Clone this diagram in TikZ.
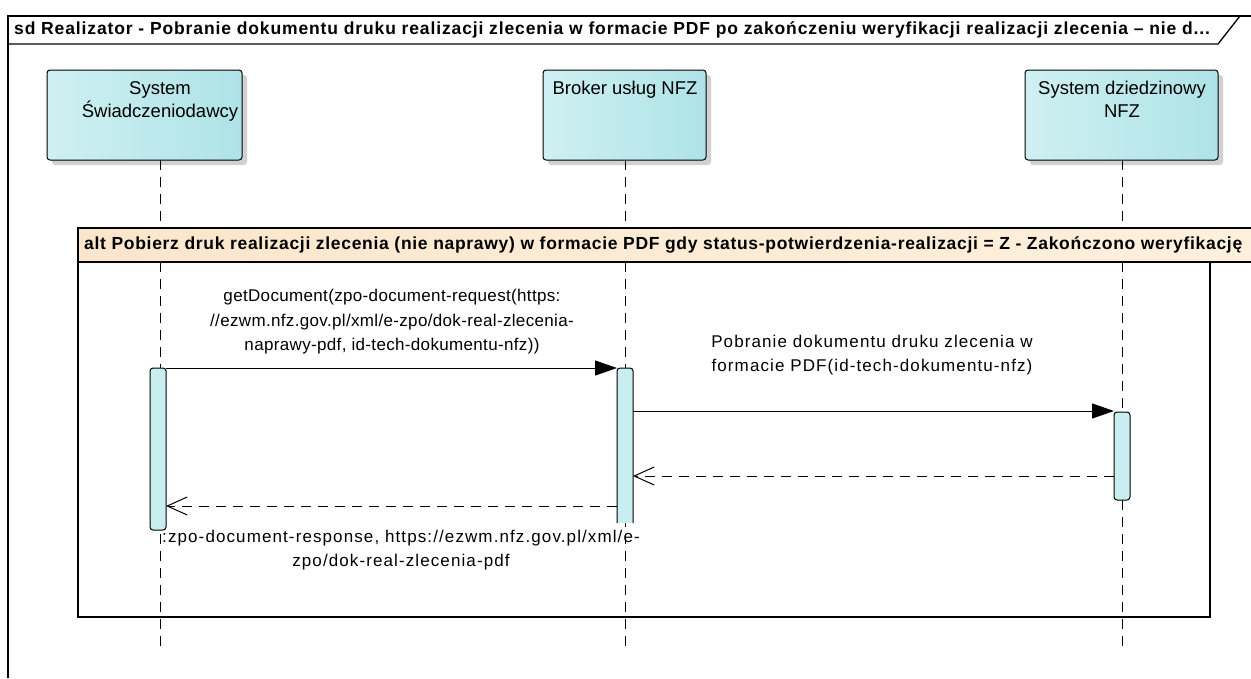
\documentclass[tikz,border=0pt]{standalone}
\usepackage{fontspec}
\setmainfont{Liberation Sans}
\newfontfamily\widebf[LetterSpace=5]{Liberation Sans Bold}
\newfontfamily\altbf[LetterSpace=4]{Liberation Sans Bold}
\newfontfamily\lblfontA[LetterSpace=2]{Liberation Sans}
\newfontfamily\lblfontB[LetterSpace=6.5]{Liberation Sans}
\usetikzlibrary{arrows.meta}
\definecolor{headL}{HTML}{CFF0F2}
\definecolor{headR}{HTML}{AEE3E7}
\definecolor{actfill}{HTML}{C8EEF0}
\definecolor{altL}{HTML}{FBE6CC}
\definecolor{altR}{HTML}{FDF0DD}
\tikzset{
  headbox/.style={draw=black, line width=1pt, rounded corners=3pt, left color=headL, right color=headR},
  headshadow/.style={fill=black!18, draw=none, rounded corners=3pt},
  lifeline/.style={draw=black, line width=1pt, dash pattern=on 10pt off 7pt},
  actbox/.style={draw=black, line width=1pt, fill=actfill, rounded corners=3pt},
  lbl/.style={font=\lblfontA\fontsize{17}{24.5}\selectfont, align=center, inner sep=0pt},
  lblw/.style={font=\lblfontB\fontsize{17}{24.5}\selectfont, align=center, inner sep=0pt},
  hdr/.style={font=\fontsize{18.5}{23}\selectfont, align=center, inner sep=0pt, anchor=north},
  ttl/.style={font=\widebf\fontsize{17.5}{20}\selectfont, anchor=west, inner sep=0pt},
  altttl/.style={font=\altbf\fontsize{17.5}{20}\selectfont, anchor=west, inner sep=0pt},
  msg/.style={draw=black, line width=1pt, -{Triangle[length=22pt,width=15pt]}},
  ret/.style={draw=black, line width=1pt, dash pattern=on 10pt off 7pt, -{Straight Barb[length=20pt,width=18pt]}},
  frm/.style={draw=black, line width=1.3pt},
}
\begin{document}
\begin{tikzpicture}[x=1pt,y=-1pt]
\useasboundingbox (0,0) rectangle (1251,678);
\clip (0,0) rectangle (1251,678);
\fill[white] (0,0) rectangle (1251,678);
% outer frame
\draw[frm] (8,678) -- (8,16) -- (1251,16);
\draw[frm] (8,44) -- (1218,44) -- (1240,16);
\node[ttl] (title) at (14,30) {sd Realizator - Pobranie dokumentu druku realizacji zlecenia w formacie PDF po zakończeniu weryfikacji realizacji zlecenia – nie d...};
% lifeline heads
\fill[headshadow] (52,75) rectangle (247,165);
\fill[headshadow] (548,75) rectangle (711,165);
\fill[headshadow] (1030,75) rectangle (1223,165);
\path[headbox] (47,70) rectangle (242,160);
\path[headbox] (543,70) rectangle (706,160);
\path[headbox] (1025,70) rectangle (1218,160);
\node[hdr] (hA) at (160,81) {System\\Świadczeniodawcy};
\node[hdr] (hB) at (625,81) {Broker usług NFZ};
\node[hdr] (hC) at (1122,81) {System dziedzinowy\\NFZ};
\coordinate (tA) at (160,160);
\coordinate (tB) at (625,160);
\coordinate (tC) at (1122,160);
\coordinate (eA) at (160,650);
\coordinate (eB) at (625,650);
\coordinate (eC) at (1122,650);
\draw[lifeline] (tA) -- (eA);
\draw[lifeline] (tB) -- (eB);
\draw[lifeline] (tC) -- (eC);
% alt fragment
\path[left color=altL, right color=altR, draw=black, line width=1.3pt] (78,228) rectangle (1260,262);
\draw[frm] (78,262) -- (78,617) -- (1210,617) -- (1210,262);
\node[altttl] (alt) at (84,245) {alt Pobierz druk realizacji zlecenia (nie naprawy) w formacie PDF gdy status-potwierdzenia-realizacji = Z - Zakończono weryfikację};
% activations
\path[actbox] (150,368) rectangle (166,530);
\fill[actfill] (617,368) rectangle (633,523);
\draw[line width=1pt, rounded corners=3pt] (617,523) -- (617,368) -- (633,368) -- (633,523);
\path[actbox] (1114,412) rectangle (1130,500);
\coordinate (a1) at (166,368);
\coordinate (b1) at (617,368);
\coordinate (b2) at (633,411);
\coordinate (c2) at (1114,411);
\coordinate (c3) at (1114,476);
\coordinate (b3) at (633,476);
\coordinate (b4) at (617,506);
\coordinate (a4) at (166,506);
\draw[msg] (a1) -- (b1);
\draw[msg] (b2) -- (c2);
\draw[ret] (c3) -- (b3);
\draw[ret] (b4) -- (a4);
\node[lbl] (m1) at (392,322) {getDocument(zpo-document-request(https:\\//ezwm.nfz.gov.pl/xml/e-zpo/dok-real-zlecenia-\\naprawy-pdf, id-tech-dokumentu-nfz))};
\node[lblw] (m2) at (872,355) {Pobranie dokumentu druku zlecenia w\\formacie PDF(id-tech-dokumentu-nfz)};
\node[lblw] (m4) at (401,550) {:zpo-document-response, https://ezwm.nfz.gov.pl/xml/e-\\zpo/dok-real-zlecenia-pdf};
\end{tikzpicture}
\end{document}
